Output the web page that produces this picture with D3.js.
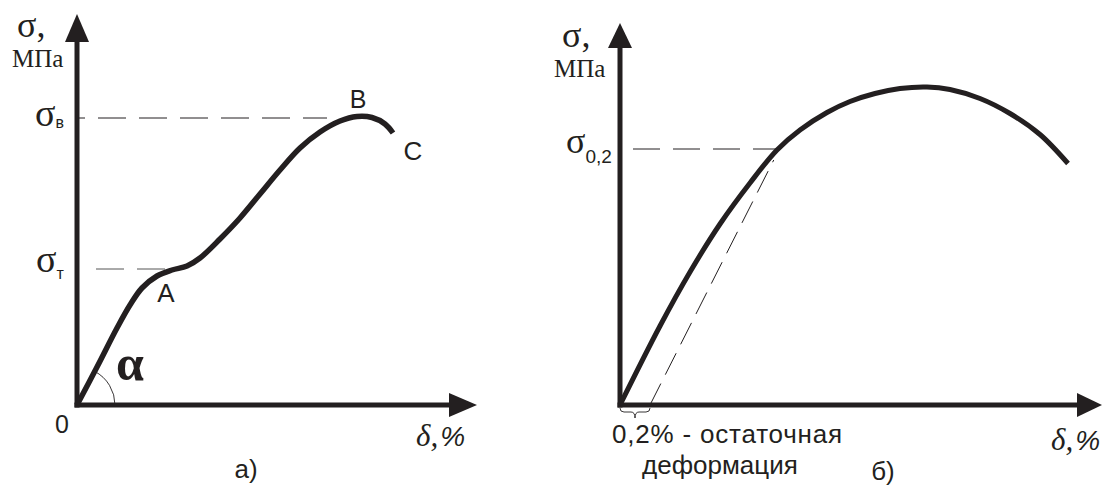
<!DOCTYPE html>
<html><head><meta charset="utf-8">
<script src="https://cdn.jsdelivr.net/npm/d3@7"></script>
<style>
html,body{margin:0;padding:0;background:#fff;}
svg{display:block;}
.sans{font-family:"Liberation Sans",Arial,sans-serif;}
.serif{font-family:"Liberation Serif","Times New Roman",serif;}
</style>
</head><body>
<svg id="chart" width="1104" height="490"></svg>
<script>
// ---- Data (arbitrary units: δ in %, σ in MPa) ----
// Chart а) — material with a yield plateau
const leftDelta = [0, 2, 4, 5.3, 6.5, 8, 9.5, 11, 12.3, 14.3, 16.3, 18.3, 20.3, 22.3, 24.3, 26.3, 28, 29.5, 30.8, 31.6];
const leftSigma = [0, 38, 77, 100, 117, 129, 135, 139, 147, 166, 187, 211, 235, 257, 273, 284, 288.5, 287.5, 281, 272];
const leftYield = 136;      // σт
const leftUltimate = 287;   // σв

// Chart б) — material without a yield plateau
const rightDelta = [0, 4, 7, 10, 13, 15.7, 18, 20.7, 23, 25.5, 28, 30.7, 33, 36, 39, 42, 44.8];
const rightSigma = [0, 79, 133, 181, 222, 255, 275, 292.5, 303.5, 311.5, 316.5, 318, 315.5, 306.5, 291.5, 270.5, 241.5];
const proofStress = 256;    // σ0,2
const offsetDelta = 3.0;    // 0,2 % offset
const offsetEnd = 245;      // σ at end of offset line
const modulus = 19.8;       // slope of elastic part

// Texts
const yTitle = "σ,";
const yUnit = "МПа";
const xTitleA = "δ,";
const xTitleB = "%";
const panelLabels = ["а)", "б)"];
const offsetCaption = ["0,2% - остаточная", "деформация"];

// ---- Drawing ----
const ink = "#231f20";
const svg = d3.select("#chart");

function panel(cfg) {
  const g = svg.append("g");
  const x = d3.scaleLinear().domain(cfg.xDomain).range(cfg.xRange);
  const y = d3.scaleLinear().domain(cfg.yDomain).range(cfg.yRange);
  const ox = x(0), oy = y(0);
  const xTip = x(cfg.xDomain[1]), yTip = y(cfg.yDomain[1]);
  const aLen = cfg.arrowLen, aW = 12;
  g.append("line").attr("x1", ox).attr("y1", oy + 2.5).attr("x2", ox).attr("y2", yTip + aLen - 1)
    .attr("stroke", ink).attr("stroke-width", 5);
  g.append("line").attr("x1", ox - 2.5).attr("y1", oy).attr("x2", xTip - aLen + 1).attr("y2", oy)
    .attr("stroke", ink).attr("stroke-width", 5);
  g.append("path").attr("d", `M${ox},${yTip} L${ox - aW},${yTip + aLen} L${ox + aW},${yTip + aLen}Z`).attr("fill", ink);
  g.append("path").attr("d", `M${xTip},${oy} L${xTip - aLen},${oy - aW} L${xTip - aLen},${oy + aW}Z`).attr("fill", ink);
  return {g, x, y, ox, oy};
}

const line = d3.line().curve(d3.curveCatmullRom.alpha(0.5));

function xTitle(g, xPos, yPos) {
  const t = g.append("text").attr("x", xPos).attr("y", yPos).attr("fill", ink);
  t.append("tspan").attr("class", "serif").attr("font-style", "italic").attr("font-size", 31).text(xTitleA);
  t.append("tspan").attr("class", "sans").attr("font-style", "italic").attr("font-size", 28).attr("dx", 2).text(xTitleB);
}

// ===== Panel а) =====
{
  const {g, x, y, ox, oy} = panel({xDomain: [0, 40], xRange: [77, 477], yDomain: [0, 391], yRange: [405, 14], arrowLen: 28});
  const bIdx = 16;
  g.append("line").attr("x1", ox + 1).attr("x2", x(leftDelta[bIdx]) - 30).attr("y1", y(leftUltimate)).attr("y2", y(leftUltimate))
    .attr("stroke", ink).attr("stroke-width", 1).attr("stroke-dasharray", "28 13").attr("stroke-dashoffset", 21);
  g.append("line").attr("x1", ox + 19).attr("x2", x(9.5)).attr("y1", y(leftYield)).attr("y2", y(leftYield))
    .attr("stroke", "#555").attr("stroke-width", 1).attr("stroke-dasharray", "28 13");
  const pts = leftDelta.map((d, i) => [x(d), y(leftSigma[i])]);
  g.append("path").attr("d", line(pts)).attr("fill", "none").attr("stroke", ink).attr("stroke-width", 5.5);
  // angle arc α
  const ang = Math.atan2(leftSigma[1], leftDelta[1] * 10);
  const r = 38;
  g.append("path").attr("d", `M${ox + r},${oy} A${r},${r} 0 0 0 ${ox + r * Math.cos(ang)},${oy - r * Math.sin(ang)}`)
    .attr("fill", "none").attr("stroke", ink).attr("stroke-width", 0.9);
  g.append("text").attr("class", "serif").attr("x", 116).attr("y", 380).attr("font-size", 50).attr("font-weight", "bold").attr("fill", ink).text("α");
  // point labels
  g.append("text").attr("class", "sans").attr("x", 62).attr("y", 433).attr("text-anchor", "middle").attr("font-size", 25).attr("fill", ink).text("0");
  g.append("text").attr("class", "sans").attr("x", 166).attr("y", 302).attr("text-anchor", "middle").attr("font-size", 26).attr("fill", ink).text("A");
  g.append("text").attr("class", "sans").attr("x", 358).attr("y", 108).attr("text-anchor", "middle").attr("font-size", 25).attr("fill", ink).text("B");
  g.append("text").attr("class", "sans").attr("x", 413).attr("y", 160).attr("text-anchor", "middle").attr("font-size", 26).attr("fill", ink).text("C");
  // y title
  g.append("text").attr("class", "serif").attr("x", 17).attr("y", 37).attr("font-size", 36).attr("fill", ink).text(yTitle);
  g.append("text").attr("class", "serif").attr("x", 12).attr("y", 67).attr("font-size", 25).attr("fill", ink).text(yUnit);
  // σв and σт
  const sv = g.append("text").attr("x", 35).attr("y", y(leftUltimate) + 8).attr("fill", ink);
  sv.append("tspan").attr("class", "serif").attr("font-size", 38).text("σ");
  sv.append("tspan").attr("class", "sans").attr("font-size", 16).attr("dy", 2).text("в");
  const st = g.append("text").attr("x", 36).attr("y", y(leftYield) + 3).attr("fill", ink);
  st.append("tspan").attr("class", "serif").attr("font-size", 38).text("σ");
  st.append("tspan").attr("class", "sans").attr("font-size", 16).attr("dy", 7).text("т");
  xTitle(g, 416, 446);
  g.append("text").attr("class", "sans").attr("x", 246).attr("y", 478).attr("text-anchor", "middle").attr("font-size", 26).attr("fill", ink).text(panelLabels[0]);
}

// ===== Panel б) =====
{
  const {g, x, y, ox, oy} = panel({xDomain: [0, 48.2], xRange: [620, 1102], yDomain: [0, 382], yRange: [405, 23], arrowLen: 25});
  g.append("line").attr("x1", ox + 13).attr("x2", x(15.7)).attr("y1", y(proofStress)).attr("y2", y(proofStress))
    .attr("stroke", ink).attr("stroke-width", 1).attr("stroke-dasharray", "27 13");
  g.append("line").attr("x1", x(offsetDelta)).attr("y1", oy).attr("x2", x(offsetDelta + offsetEnd / modulus)).attr("y2", y(offsetEnd))
    .attr("stroke", ink).attr("stroke-width", 1).attr("stroke-dasharray", "24 10");
  const pts = rightDelta.map((d, i) => [x(d), y(rightSigma[i])]);
  g.append("path").attr("d", line(pts)).attr("fill", "none").attr("stroke", ink).attr("stroke-width", 5);
  // brace under offset
  const bx0 = x(0), bx1 = x(offsetDelta), bm = (bx0 + bx1) / 2;
  g.append("path").attr("d", `M${bx0},${oy + 3} Q${bx0},${oy + 7} ${bx0 + 4},${oy + 7} L${bm - 4},${oy + 7} Q${bm},${oy + 7} ${bm},${oy + 13} Q${bm},${oy + 7} ${bm + 4},${oy + 7} L${bx1 - 4},${oy + 7} Q${bx1},${oy + 7} ${bx1},${oy + 3}`)
    .attr("fill", "none").attr("stroke", ink).attr("stroke-width", 0.9);
  g.append("text").attr("class", "serif").attr("x", 562).attr("y", 47).attr("font-size", 36).attr("fill", ink).text(yTitle);
  g.append("text").attr("class", "serif").attr("x", 554).attr("y", 77).attr("font-size", 25).attr("fill", ink).text(yUnit);
  const s2 = g.append("text").attr("x", 566).attr("y", y(proofStress) + 4).attr("fill", ink);
  s2.append("tspan").attr("class", "serif").attr("font-size", 36).text("σ");
  s2.append("tspan").attr("class", "sans").attr("font-size", 19).attr("dy", 10).text("0,2");
  g.append("text").attr("class", "sans").attr("x", 612).attr("y", 443).attr("font-size", 26).attr("letter-spacing", 0.8).attr("fill", ink).text(offsetCaption[0]);
  g.append("text").attr("class", "sans").attr("x", 642).attr("y", 474).attr("font-size", 26).attr("fill", ink).text(offsetCaption[1]);
  xTitle(g, 1051, 450);
  g.append("text").attr("class", "sans").attr("x", 883).attr("y", 480).attr("text-anchor", "middle").attr("font-size", 26).attr("fill", ink).text(panelLabels[1]);
}
</script>
</body></html>
